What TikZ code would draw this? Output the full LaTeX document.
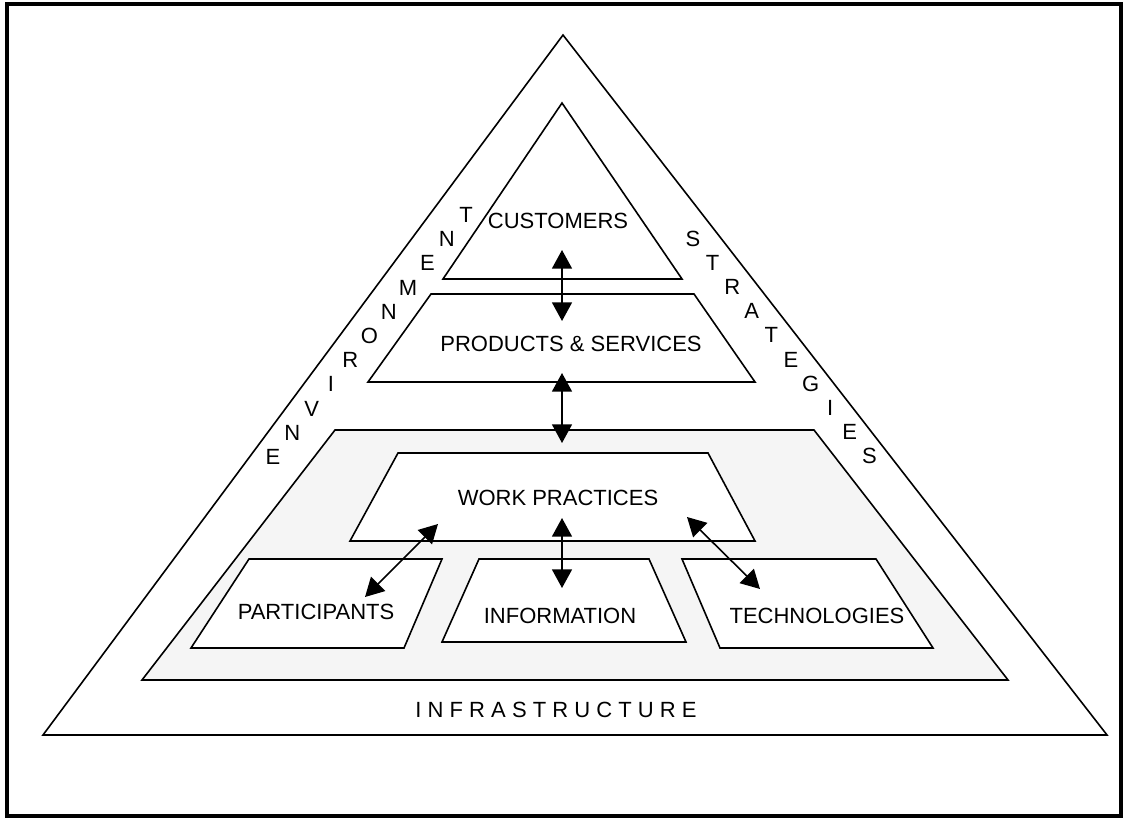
\documentclass[tikz,border=0pt]{standalone}
\usepackage{fontspec}
\setmainfont{Liberation Sans}
\usetikzlibrary{arrows.meta}
\definecolor{paleGray}{RGB}{245,245,245}
\tikzset{
	outline/.style={draw=black, line width=1.2pt, line join=miter},
	caption/.style={inner sep=0pt, font=\fontsize{16.5}{19}\selectfont},
	link/.style={line width=1.2pt, {Triangle[length=14pt,width=15pt]}-{Triangle[length=14pt,width=15pt]}}
}

\begin{document}
\begin{tikzpicture}[x=0.75pt, y=-0.75pt]
			%%%%% START %%%%%
			\useasboundingbox (0, 0) rectangle (1126, 820);
			\draw[line width=3pt] (7, 4) rectangle (1121, 816);
			
			% outer triangle
			\draw[outline] (563, 35) -- (1107, 735) -- (43, 735) -- cycle;
			
			% customers
			\draw[outline, fill=white] (562, 103) -- (682, 279) -- (443, 279) -- cycle;
			\node[caption] (cust) at (558, 221) {CUSTOMERS};
			
			% products and services
			\draw[outline, fill=white] (431, 294) -- (694, 294) -- (755, 382) -- (368, 382) -- cycle;
			\node[caption] (prod) at (571, 344) {PRODUCTS \& SERVICES};
			
			% infrastructure block
			\draw[outline, fill=paleGray] (335, 430) -- (814, 430) -- (1008, 680) -- (142, 680) -- cycle;
			\draw[outline, fill=white] (398, 453) -- (708, 453) -- (755, 541) -- (350, 541) -- cycle;
			\node[caption] (work) at (558, 498) {WORK PRACTICES};
			
			\draw[outline, fill=white] (249, 559) -- (442, 559) -- (404, 648) -- (191, 648) -- cycle;
			\node[caption] (part) at (316, 612) {PARTICIPANTS};
			
			\draw[outline, fill=white] (479, 559) -- (649, 559) -- (686, 642) -- (442, 642) -- cycle;
			\node[caption] (info) at (560, 616) {INFORMATION};
			
			\draw[outline, fill=white] (682, 559) -- (876, 559) -- (933, 648) -- (720, 648) -- cycle;
			\node[caption] (tech) at (817, 616) {TECHNOLOGIES};
			
			\node[caption] (infra) at (556, 710) {I N F R A S T R U C T U R E};
			
			% side words
			\foreach \ch [count=\i from 0] in {E,N,V,I,R,O,N,M,E,N,T}
				\node[caption] (env\i) at (273+19.3*\i, 457-24.2*\i) {\ch};
			\foreach \ch [count=\i from 0] in {S,T,R,A,T,E,G,I,E,S}
				\node[caption] (str\i) at (693+19.6*\i, 239+24.1*\i) {\ch};
			
			% arrows
			\coordinate (custB) at (562, 250);
			\coordinate (prodT) at (562, 321);
			\coordinate (prodB) at (562, 373);
			\coordinate (infraT) at (562, 443);
			\coordinate (workB) at (562, 518);
			\coordinate (infoT) at (562, 588);
			\coordinate (workL) at (438, 524);
			\coordinate (partT) at (365, 597);
			\coordinate (workR) at (687, 517);
			\coordinate (techT) at (760, 589);
			
			\draw[link] (custB) -- (prodT);
			\draw[link] (prodB) -- (infraT);
			\draw[link] (workB) -- (infoT);
			\draw[link] (workL) -- (partT);
			\draw[link] (workR) -- (techT);
			
			%%%%% END %%%%%
		\end{tikzpicture}
\end{document}
